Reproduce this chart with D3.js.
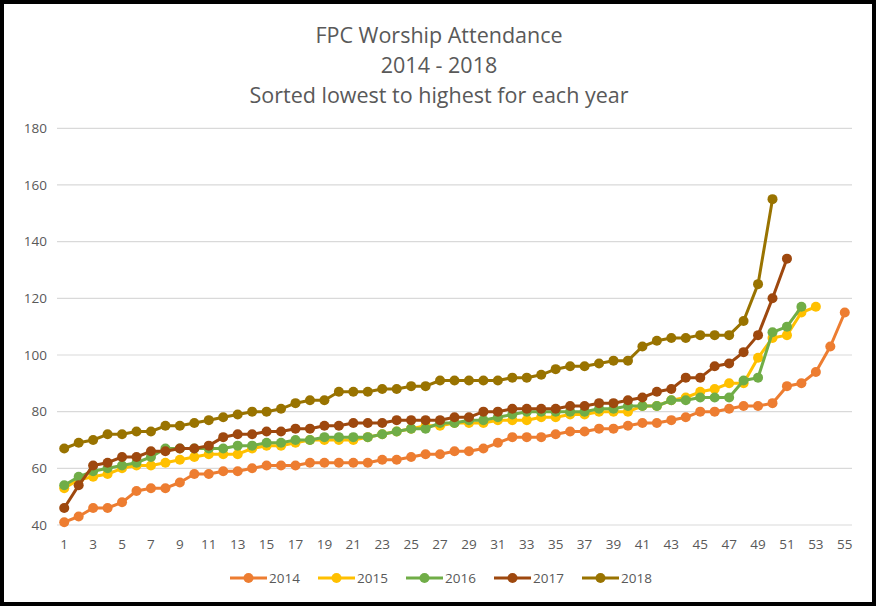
<!DOCTYPE html>
<html>
<head>
<meta charset="utf-8">
<script src="https://cdn.jsdelivr.net/npm/d3@7"></script>
<style>
  body { margin: 0; background: #fff; }
  svg text { font-family: "Open Sans", "Liberation Sans", sans-serif; fill: #595959; }
</style>
</head>
<body>
<svg id="chart" width="877" height="607"></svg>
<script>
// attendance values, sorted low to high for each year
var years = ["2014", "2015", "2016", "2017", "2018"];
var colors = ["#ED7D31", "#FFC000", "#70AD47", "#9E480E", "#997300"];

var v2014 = [41, 43, 46, 46, 48, 52, 53, 53, 55, 58, 58, 59, 59, 60, 61, 61, 61, 62, 62, 62,
  62, 62, 63, 63, 64, 65, 65, 66, 66, 67, 69, 71, 71, 71, 72, 73, 73, 74, 74, 75,
  76, 76, 77, 78, 80, 80, 81, 82, 82, 83, 89, 90, 94, 103, 115];
var v2015 = [53, 56, 57, 58, 60, 61, 61, 62, 63, 64, 65, 65, 65, 67, 68, 68, 69, 70, 70, 70,
  70, 71, 72, 73, 74, 75, 75, 76, 76, 76, 77, 77, 77, 78, 78, 79, 79, 80, 80, 80,
  82, 82, 84, 85, 87, 88, 90, 90, 99, 106, 107, 115, 117];
var v2016 = [54, 57, 59, 60, 61, 62, 64, 67, 67, 67, 67, 67, 68, 68, 69, 69, 70, 70, 71, 71,
  71, 71, 72, 73, 74, 74, 76, 76, 77, 77, 78, 79, 80, 80, 80, 80, 80, 81, 81, 82,
  82, 82, 84, 84, 85, 85, 85, 91, 92, 108, 110, 117];
var v2017 = [46, 54, 61, 62, 64, 64, 66, 66, 67, 67, 68, 71, 72, 72, 73, 73, 74, 74, 75, 75,
  76, 76, 76, 77, 77, 77, 77, 78, 78, 80, 80, 81, 81, 81, 81, 82, 82, 83, 83, 84,
  85, 87, 88, 92, 92, 96, 97, 101, 107, 120, 134];
var v2018 = [67, 69, 70, 72, 72, 73, 73, 75, 75, 76, 77, 78, 79, 80, 80, 81, 83, 84, 84, 87,
  87, 87, 88, 88, 89, 89, 91, 91, 91, 91, 91, 92, 92, 93, 95, 96, 96, 97, 98, 98,
  103, 105, 106, 106, 107, 107, 107, 112, 125, 155];

var yTicks = [40, 60, 80, 100, 120, 140, 160, 180];
var categories = d3.range(1, 56);

var seriesList = [v2014, v2015, v2016, v2017, v2018];

var svg = d3.select("#chart");

// outer frame
svg.append("rect")
    .attr("x", 2).attr("y", 2)
    .attr("width", 872).attr("height", 602)
    .attr("fill", "#fff")
    .attr("stroke", "#000")
    .attr("stroke-width", 4);

// title
var titleLines = ["FPC Worship Attendance", "2014 - 2018", "Sorted lowest to highest for each year"];
svg.append("g").selectAll("text")
    .data(titleLines)
    .join("text")
    .attr("x", 439)
    .attr("y", function(d, i) { return 43 + i * 30; })
    .attr("text-anchor", "middle")
    .style("font-size", "21.5px")
    .text(function(d) { return d; });

var plotL = 57, plotR = 852, plotT = 128.3, plotB = 525;

var x = d3.scaleBand().domain(categories).range([plotL, plotR]);
var y = d3.scaleLinear().domain([40, 180]).range([plotB, plotT]);
var cx = function(i) { return x(i + 1) + x.bandwidth() / 2; };

// gridlines
svg.append("g").selectAll("line")
    .data(yTicks)
    .join("line")
    .attr("x1", plotL).attr("x2", plotR)
    .attr("y1", function(d) { return y(d); })
    .attr("y2", function(d) { return y(d); })
    .attr("stroke", "#d9d9d9")
    .attr("stroke-width", 1.2);

// y axis labels
var yAxis = svg.append("g")
    .attr("transform", "translate(" + (plotL - 10) + ",0)")
    .call(d3.axisLeft(y).tickValues(yTicks).tickSize(0).tickPadding(0));
yAxis.select(".domain").remove();
yAxis.selectAll("text").style("font-size", "13.5px").attr("fill", "#595959");

// x axis labels, every other category
var xAxis = svg.append("g")
    .attr("transform", "translate(0," + (plotB + 10) + ")")
    .call(d3.axisBottom(x)
        .tickValues(categories.filter(function(d) { return d % 2 == 1; }))
        .tickSize(0).tickPadding(4));
xAxis.select(".domain").remove();
xAxis.selectAll("text").style("font-size", "13.5px").attr("fill", "#595959");

var line = d3.line()
    .x(function(d, i) { return cx(i); })
    .y(function(d) { return y(d); });

seriesList.forEach(function(vals, k) {
    var g = svg.append("g").attr("class", "series");
    g.append("path")
        .datum(vals)
        .attr("d", line)
        .attr("fill", "none")
        .attr("stroke", colors[k])
        .attr("stroke-width", 3)
        .attr("stroke-linejoin", "round");
    g.selectAll("circle")
        .data(vals)
        .join("circle")
        .attr("cx", function(d, i) { return cx(i); })
        .attr("cy", function(d) { return y(d); })
        .attr("r", 5)
        .attr("fill", colors[k]);
});

// legend
var legend = svg.append("g").attr("transform", "translate(230,578)");
var item = legend.selectAll("g")
    .data(years)
    .join("g")
    .attr("transform", function(d, i) { return "translate(" + (i * 88) + ",0)"; });
item.append("line")
    .attr("x1", 0).attr("x2", 37)
    .attr("stroke", function(d, i) { return colors[i]; })
    .attr("stroke-width", 3);
item.append("circle")
    .attr("cx", 18.5).attr("r", 5)
    .attr("fill", function(d, i) { return colors[i]; });
item.append("text")
    .attr("x", 39).attr("y", 5)
    .style("font-size", "13.5px")
    .text(function(d) { return d; });
</script>
</body>
</html>
